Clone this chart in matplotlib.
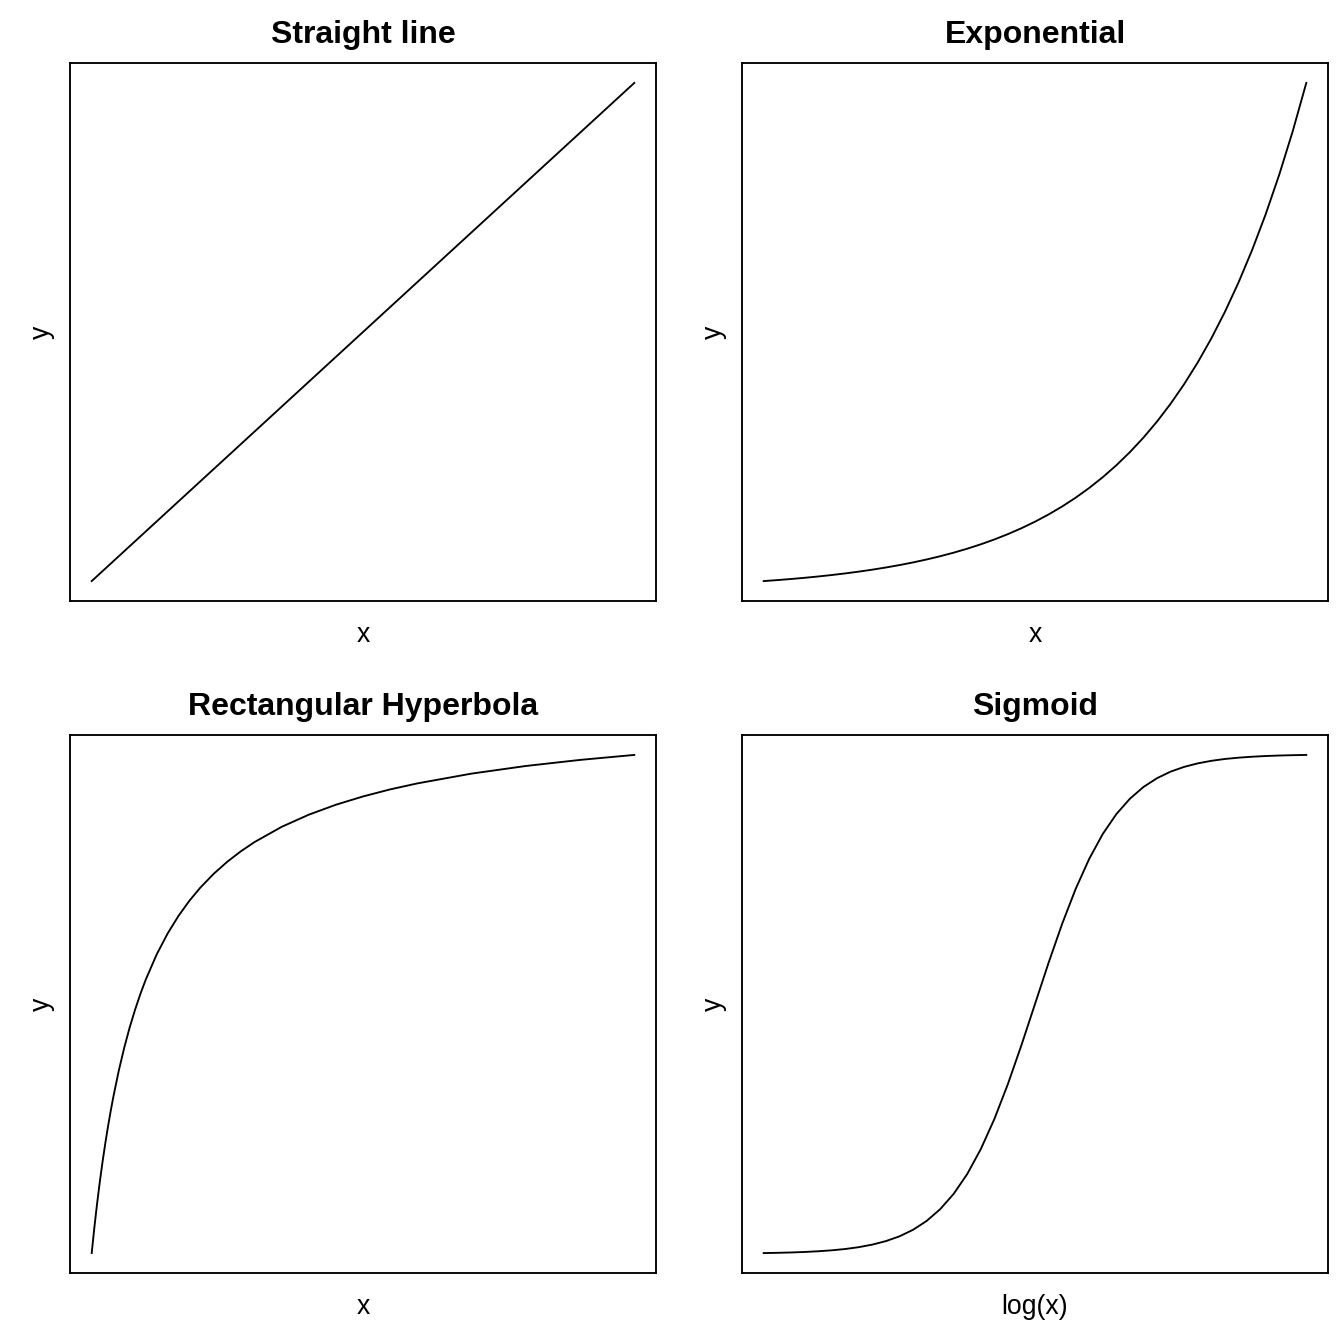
import matplotlib
matplotlib.use("Agg")
from matplotlib import pyplot as plt

# values
line_x = [0, 1]
line_y = [0, 1]

exp_x = [0, 0.025, 0.05, 0.075, 0.1, 0.125, 0.15, 0.175, 0.2, 0.225, 0.25,
         0.275, 0.3, 0.325, 0.35, 0.375, 0.4, 0.425, 0.45, 0.475, 0.5,
         0.525, 0.55, 0.575, 0.6, 0.625, 0.65, 0.675, 0.7, 0.725, 0.75,
         0.775, 0.8, 0.825, 0.85, 0.875, 0.9, 0.925, 0.95, 0.975, 1.0]
exp_y = [1.000, 1.105, 1.221, 1.350, 1.492, 1.649, 1.822, 2.014, 2.226, 2.460, 2.718,
         3.004, 3.320, 3.669, 4.055, 4.482, 4.953, 5.474, 6.050, 6.686, 7.389,
         8.166, 9.025, 9.974, 11.023, 12.182, 13.464, 14.880, 16.445, 18.174, 20.086,
         22.198, 24.533, 27.113, 29.964, 33.115, 36.598, 40.447, 44.701, 49.402, 54.598]

hyp_x = [0, 0.05, 0.1, 0.15, 0.2, 0.25, 0.3, 0.35, 0.4, 0.5, 0.6, 0.7, 0.8, 0.9,
         1.0, 1.2, 1.4, 1.6, 1.8, 2.0, 2.25, 2.5, 2.75, 3, 3.5, 4, 4.5, 5, 5.5,
         6, 7, 8, 9, 10]
hyp_y = [0, 0.0476, 0.0909, 0.1304, 0.1667, 0.2, 0.2308, 0.2593, 0.2857, 0.3333,
         0.375, 0.4118, 0.4444, 0.4737, 0.5, 0.5455, 0.5833, 0.6154, 0.6429, 0.6667,
         0.6923, 0.7143, 0.7333, 0.75, 0.7778, 0.8, 0.8182, 0.8333, 0.8462, 0.8571,
         0.875, 0.8889, 0.9, 0.9091]

sig_x = exp_x
sig_y = [0.0013, 0.0018, 0.0025, 0.0035, 0.0049, 0.0068, 0.0094, 0.0131, 0.0182, 0.0252, 0.0347,
         0.0478, 0.0654, 0.0889, 0.1197, 0.1594, 0.2092, 0.2694, 0.3396, 0.4176, 0.5,
         0.5824, 0.6604, 0.7306, 0.7908, 0.8406, 0.8803, 0.9111, 0.9346, 0.9522, 0.9653,
         0.9748, 0.9818, 0.9869, 0.9906, 0.9932, 0.9951, 0.9965, 0.9975, 0.9982, 0.9987]

panels = [
    ("Straight line", "x", line_x, line_y),
    ("Exponential", "x", exp_x, exp_y),
    ("Rectangular Hyperbola", "x", hyp_x, hyp_y),
    ("Sigmoid", "log(x)", sig_x, sig_y),
]

plt.rcParams["font.family"] = ["Liberation Sans", "DejaVu Sans"]

fig = plt.figure(figsize=(7, 7), dpi=192)

W = 1344.0
lefts = [70, 742, 70, 742]
tops = [63, 63, 735, 735]
aw, ah = 586, 538

for i, (title, xlab, xs, ys) in enumerate(panels):
    l = lefts[i] / W
    b = 1 - (tops[i] + ah) / W
    ax = fig.add_axes([l, b, aw / W, ah / W])
    ax.plot(xs, ys, color="black", linewidth=0.7)
    # R style 4% padding
    ax.margins(0.04)
    ax.set_xticks([])
    ax.set_yticks([])
    for s in ax.spines.values():
        s.set_linewidth(0.7)
    cx = l + aw / W / 2
    cy = b + ah / W / 2
    fig.text(cx, 1 - (tops[i] - 28) / W, title, ha="center", va="center",
             fontsize=12, fontweight="bold")
    fig.text(cx, b - 34 / W, xlab, ha="center", va="center", fontsize=10)
    fig.text(l - 28 / W, cy, "y", ha="center", va="center", fontsize=10,
             rotation=90)

plt.savefig("out.png", dpi=192)
